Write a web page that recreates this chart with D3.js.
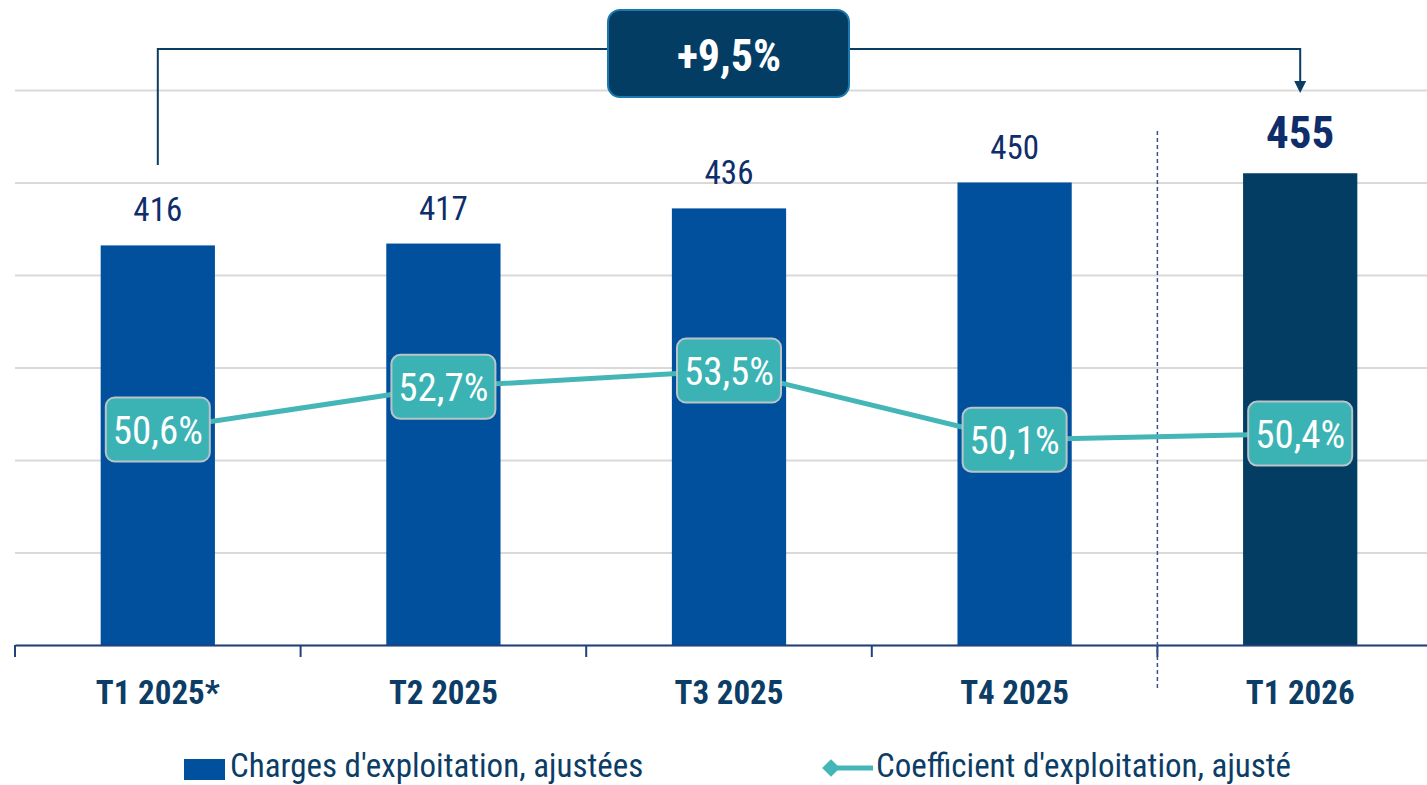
<!DOCTYPE html>
<html>
<head>
<meta charset="utf-8">
<script src="https://cdn.jsdelivr.net/npm/d3@7"></script>
<style>
  body { margin: 0; background: #fff; }
  svg { display: block; font-family: "Liberation Sans Narrow", "Roboto Condensed", "Noto Sans", sans-serif; }
</style>
</head>
<body>
<svg id="chart" width="1427" height="785"></svg>
<script>
// data
var categories = ["T1 2025*", "T2 2025", "T3 2025", "T4 2025", "T1 2026"];
var charges = [416, 417, 436, 450, 455];
var coefficient = [50.6, 52.7, 53.5, 50.1, 50.4];
var gridValues = [200, 250, 300, 350, 400, 450, 500];
var growthLabel = "+9,5%";
var legendLabels = ["Charges d'exploitation, ajustées", "Coefficient d'exploitation, ajusté"];

var fmtPct = function(v){ return d3.format(".1f")(v).replace(".", ",") + "%"; };

var svg = d3.select("#chart");

var x = d3.scaleBand()
  .domain(categories)
  .range([15, 1443])
  .paddingInner(0.6)
  .paddingOuter(0.3);

var y = d3.scaleLinear().domain([200, 500]).range([645, 90]);
var y2 = d3.scaleLinear().domain([40, 67.3]).range([645, 90]);

var half = x.step() * x.paddingInner() / 2;
function boundary(i){ return x(categories[i]) - half; }
function center(i){ return x(categories[i]) + x.bandwidth() / 2; }

// gridlines
svg.append("g")
  .attr("transform", "translate(15,0)")
  .call(d3.axisLeft(y).tickValues(gridValues).tickSize(-1412).tickFormat(""))
  .call(g => g.select(".domain").remove())
  .call(g => g.selectAll(".tick line").attr("stroke", "#d9d9d9").attr("stroke-width", 2));

// bars
svg.append("g").selectAll("rect")
  .data(charges)
  .enter()
  .append("rect")
    .attr("x", (d, i) => x(categories[i]))
    .attr("y", d => y(d))
    .attr("width", x.bandwidth())
    .attr("height", d => y(200) - y(d))
    .attr("fill", (d, i) => i == categories.length - 1 ? "#033d64" : "#00509e");

// bar value labels
svg.append("g").selectAll("text")
  .data(charges)
  .enter()
  .append("text")
    .attr("x", (d, i) => center(i))
    .attr("y", (d, i) => i == categories.length - 1 ? y(d) - 25 : y(d) - 24)
    .attr("text-anchor", "middle")
    .attr("fill", "#0f2d6b")
    .attr("font-size", (d, i) => i == categories.length - 1 ? 45 : 33)
    .attr("font-weight", (d, i) => i == categories.length - 1 ? "bold" : "normal")
    .text(d => d);

// x axis
var axis = svg.append("g")
  .attr("transform", "translate(0," + y(200) + ")")
  .call(d3.axisBottom(x).tickSize(0).tickPadding(36));
axis.select(".domain").attr("stroke", "#22407a").attr("stroke-width", 2);
axis.selectAll(".tick text")
  .attr("font-size", 33)
  .attr("font-weight", "bold")
  .attr("fill", "#0c3d66")
  .attr("font-family", "Liberation Sans Narrow, Roboto Condensed, Noto Sans, sans-serif");
svg.append("g").selectAll("line")
  .data(categories)
  .enter()
  .append("line")
    .attr("x1", (d, i) => boundary(i))
    .attr("x2", (d, i) => boundary(i))
    .attr("y1", y(200))
    .attr("y2", y(200) + 12)
    .attr("stroke", "#22407a")
    .attr("stroke-width", 2);

// separator
svg.append("line")
  .attr("x1", boundary(4)).attr("x2", boundary(4))
  .attr("y1", 131).attr("y2", 690)
  .attr("stroke", "#3c4f8a")
  .attr("stroke-width", 1.5)
  .attr("stroke-dasharray", "4,3");

// coefficient line
var line = d3.line()
  .x((d, i) => center(i))
  .y(d => y2(d));
svg.append("path")
  .datum(coefficient)
  .attr("d", line)
  .attr("fill", "none")
  .attr("stroke", "#45b6b8")
  .attr("stroke-width", 5);

var lbl = svg.append("g").selectAll("g")
  .data(coefficient)
  .enter()
  .append("g")
    .attr("transform", (d, i) => "translate(" + center(i) + "," + y2(d) + ")");
lbl.append("rect")
  .attr("x", -52).attr("y", -32)
  .attr("width", 104).attr("height", 64)
  .attr("rx", 9)
  .attr("fill", "#3bb3b4")
  .attr("stroke", "#b9c4c8")
  .attr("stroke-width", 2);
lbl.append("text")
  .attr("text-anchor", "middle")
  .attr("y", 14)
  .attr("font-size", 39)
  .attr("fill", "#fff")
  .text(d => fmtPct(d));

// growth bracket
var bx1 = center(0), bx2 = center(4), by = 49;
svg.append("path")
  .attr("d", "M" + bx1 + "," + 165 + "V" + by + "H" + bx2 + "V" + 82)
  .attr("fill", "none")
  .attr("stroke", "#0b3d63")
  .attr("stroke-width", 2);
svg.append("path")
  .attr("d", "M" + (bx2 - 6) + ",81L" + (bx2 + 6) + ",81L" + bx2 + ",93Z")
  .attr("fill", "#0b3d63");

var boxX = center(2);
svg.append("rect")
  .attr("x", boxX - 121).attr("y", 10)
  .attr("width", 241).attr("height", 87)
  .attr("rx", 12)
  .attr("fill", "#033d64")
  .attr("stroke", "#1a7ab0")
  .attr("stroke-width", 2);
svg.append("text")
  .attr("x", boxX).attr("y", 71)
  .attr("text-anchor", "middle")
  .attr("font-size", 44)
  .attr("font-weight", "bold")
  .attr("fill", "#fff")
  .text(growthLabel);

// legend
var leg = svg.append("g");
leg.append("rect")
  .attr("x", 184).attr("y", 759)
  .attr("width", 41).attr("height", 21)
  .attr("fill", "#00509e");
leg.append("text")
  .attr("x", 230).attr("y", 777)
  .attr("font-size", 33)
  .attr("fill", "#0c3d66")
  .text(legendLabels[0]);
leg.append("line")
  .attr("x1", 826).attr("x2", 873)
  .attr("y1", 768).attr("y2", 768)
  .attr("stroke", "#45b6b8")
  .attr("stroke-width", 5);
leg.append("path")
  .attr("d", d3.symbol().type(d3.symbolDiamond2).size(200)())
  .attr("transform", "translate(831,768)")
  .attr("fill", "#45b6b8");
leg.append("text")
  .attr("x", 876).attr("y", 777)
  .attr("font-size", 33)
  .attr("fill", "#0c3d66")
  .text(legendLabels[1]);
</script>
</body>
</html>
